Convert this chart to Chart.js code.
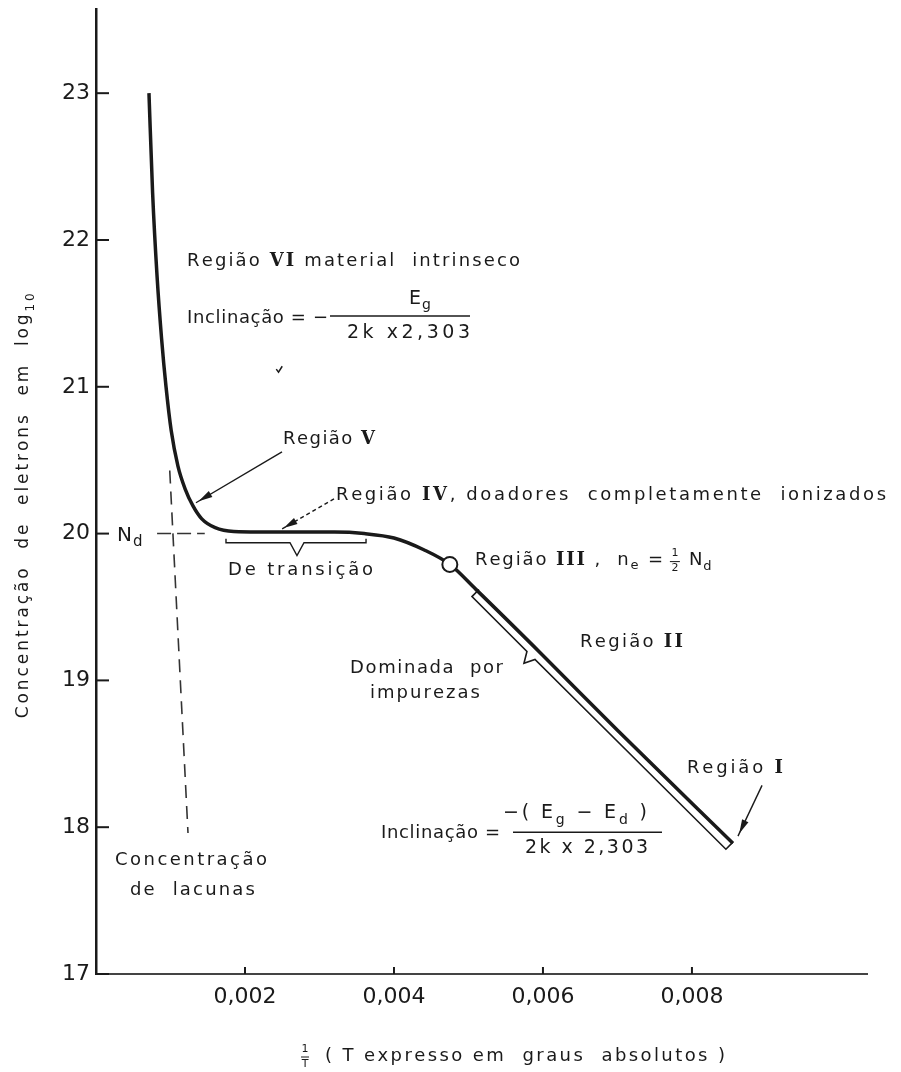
<!DOCTYPE html>
<html>
<head>
<meta charset="utf-8">
<title>Concentração de eletrons</title>
<script src="https://cdn.jsdelivr.net/npm/chart.js@4.4.1/dist/chart.umd.min.js"></script>
<style>
  html, body { margin: 0; padding: 0; background: #fff; }
  canvas { display: block; }
</style>
</head>
<body>
<canvas id="chart" width="901" height="1072"></canvas>
<script>
// 1/T against log10 of the electron concentration
const invT = [0.000711, 0.00076, 0.00082, 0.00088, 0.00094, 0.00101, 0.0011, 0.0012, 0.0013, 0.00142, 0.0016, 0.00185, 0.0026, 0.0032, 0.0036, 0.0040, 0.0044, 0.00475, 0.0051, 0.0060, 0.0070, 0.00855];
const logN = [23.0, 22.32, 21.75, 21.33, 21.0, 20.7, 20.46, 20.3, 20.19, 20.1, 20.04, 20.015, 20.01, 20.01, 20.0, 19.97, 19.89, 19.79, 19.62, 19.17, 18.66, 17.89];

// Região III, n = Nd/2
const halfX = [0.00475];
const halfY = [19.79];

// Nd level (dashed)
const ndX = [0.00082, 0.00146];
const ndY = [20, 20];

// hole concentration (dashed)
const holeX = [0.00099, 0.001235];
const holeY = [20.43, 17.96];

// brace under Região II
const braceX = [0.005141, 0.005047, 0.005785, 0.005745, 0.005893, 0.008456, 0.00855];
const braceY = [19.619, 19.571, 19.197, 19.116, 19.143, 17.85, 17.898];

const xTicks = [0.002, 0.004, 0.006, 0.008];
const yTicks = [17, 18, 19, 20, 21, 22, 23];

const INK = "#1a1a1a";
const pts = (xs, ys) => xs.map((x, i) => ({ x, y: ys[i] }));
const f = (s) => `${s}px "DejaVu Sans"`;
const rn = (s) => `bold ${s}px "DejaVu Serif"`;

// text drawn char by char so the spacing can be stretched to a width
function runs(ctx, items, x, y, w, center) {
  let nat = 0, n = 0;
  items.forEach(([t, fn]) => {
    ctx.font = fn;
    for (const ch of t) { nat += ctx.measureText(ch).width; n++; }
  });
  const ls = w ? Math.max((w - nat) / Math.max(n - 1, 1), 0) : 1;
  const total = nat + ls * (n - 1);
  let cx = center ? x - total / 2 : x;
  items.forEach(([t, fn, dy]) => {
    ctx.font = fn;
    for (const ch of t) {
      ctx.fillText(ch, cx, y + (dy || 0));
      cx += ctx.measureText(ch).width + ls;
    }
  });
  return cx;
}

const notes = {
  id: "notes",
  afterDraw(chart) {
    const { ctx, scales: { x, y }, chartArea: a } = chart;
    const X = (v) => x.getPixelForValue(v / 1000);
    const Y = (v) => y.getPixelForValue(v);
    const line = (x1, y1, x2, y2) => { ctx.beginPath(); ctx.moveTo(x1, y1); ctx.lineTo(x2, y2); ctx.stroke(); };
    const arrow = (x1, y1, x2, y2, dash) => {
      ctx.setLineDash(dash || []);
      line(x1, y1, x2, y2);
      ctx.setLineDash([]);
      const ang = Math.atan2(y2 - y1, x2 - x1), L = 14, W = 3.5;
      const c = Math.cos(ang), s = Math.sin(ang);
      const bx = x2 - 3 * c, by = y2 - 3 * s;
      ctx.beginPath();
      ctx.moveTo(bx, by);
      ctx.lineTo(bx - L * c + W * s, by - L * s - W * c);
      ctx.lineTo(bx - L * c - W * s, by - L * s + W * c);
      ctx.closePath();
      ctx.fill();
    };

    ctx.save();
    ctx.strokeStyle = INK;
    ctx.fillStyle = INK;

    // inward tick marks
    ctx.lineWidth = 2;
    yTicks.forEach((v) => line(a.left, Y(v), a.left + 13, Y(v)));
    xTicks.forEach((v) => line(x.getPixelForValue(v), a.bottom, x.getPixelForValue(v), a.bottom - 7));

    ctx.textBaseline = "middle";
    ctx.textAlign = "left";

    // Nd
    runs(ctx, [["N", f(20)], ["d", f(15), 7]], X(0.282), Y(20) + 2, 0);

    // Região VI
    runs(ctx, [["Região ", f(18)], ["VI", rn(18)], [" material  intrinseco", f(18)]], X(1.222), Y(21.856), 333);
    runs(ctx, [["Inclinação = −", f(18)]], X(1.222), Y(21.468), 141);
    ctx.lineWidth = 1.4;
    line(X(3.141), Y(21.482), X(5.021), Y(21.482));
    runs(ctx, [["E", f(19)], ["g", f(14), 7]], X(4.35), Y(21.6), 0, true);
    runs(ctx, [["2k x2,303", f(19)]], X(4.195), Y(21.366), 123, true);
    // small stray mark below the formula
    ctx.lineWidth = 1.5;
    ctx.beginPath();
    ctx.moveTo(X(2.42), Y(21.12));
    ctx.lineTo(X(2.45), Y(21.1));
    ctx.lineTo(X(2.5), Y(21.14));
    ctx.stroke();

    // Região V
    runs(ctx, [["Região ", f(18)], ["V", rn(18)]], X(2.51), Y(20.645), 92);
    ctx.lineWidth = 1.4;
    arrow(X(2.497), Y(20.557), X(1.342), Y(20.21));

    // Região IV
    runs(ctx, [["Região ", f(18)], ["IV", rn(18)], [", doadores  completamente  ionizados", f(18)]], X(3.222), Y(20.258), 550);
    arrow(X(3.195), Y(20.237), X(2.484), Y(20.027), [4, 3]);

    // De transição brace
    ctx.lineWidth = 1.4;
    ctx.beginPath();
    ctx.moveTo(X(1.745), Y(19.965));
    ctx.lineTo(X(1.745), Y(19.938));
    ctx.lineTo(X(2.604), Y(19.938));
    ctx.lineTo(X(2.698), Y(19.85));
    ctx.lineTo(X(2.792), Y(19.938));
    ctx.lineTo(X(3.625), Y(19.938));
    ctx.lineTo(X(3.625), Y(19.965));
    ctx.stroke();
    runs(ctx, [["De transição", f(18)]], X(1.772), Y(19.748), 145);

    // Região III
    const my = Y(19.816);
    let cx = runs(ctx, [["Região ", f(18)], ["III", rn(18)], [" ,  n", f(18)], ["e", f(13), 5], [" =", f(18)]], X(5.088), my, 188);
    ctx.font = f(11);
    ctx.textAlign = "center";
    ctx.fillText("1", cx + 10, my - 7);
    ctx.fillText("2", cx + 10, my + 8);
    ctx.lineWidth = 1;
    line(cx + 5, my + 1, cx + 15, my + 1);
    ctx.textAlign = "left";
    runs(ctx, [["N", f(18)], ["d", f(13), 6]], cx + 24, my, 0);

    // Região II and its brace label
    runs(ctx, [["Região ", f(18)], ["II", rn(18)]], X(6.497), Y(19.258), 103);
    runs(ctx, [["Dominada  por", f(18)]], X(3.41), Y(19.081), 153);
    runs(ctx, [["impurezas", f(18)]], X(3.678), Y(18.911), 110);

    // Região I
    runs(ctx, [["Região ", f(18)], ["I", rn(18)]], X(7.934), Y(18.401), 96);
    ctx.lineWidth = 1.4;
    arrow(X(8.941), Y(18.285), X(8.618), Y(17.939));

    // bottom slope formula
    runs(ctx, [["Inclinação =", f(18)]], X(3.826), Y(17.959), 119);
    ctx.lineWidth = 1.4;
    line(X(5.598), Y(17.966), X(7.598), Y(17.966));
    runs(ctx, [["−( E", f(19)], ["g", f(14), 7], [" − E", f(19)], ["d", f(14), 7], [" )", f(19)]], X(6.43), Y(18.095), 144, true);
    runs(ctx, [["2k x 2,303", f(19)]], X(6.585), Y(17.857), 123, true);

    // holes label
    runs(ctx, [["Concentração", f(18)]], X(0.255), Y(17.775), 152);
    runs(ctx, [["de  lacunas", f(18)]], X(0.456), Y(17.571), 125);

    // axis titles
    ctx.save();
    ctx.translate(a.left - 72, (a.top + a.bottom) / 2 + 14);
    ctx.rotate(-Math.PI / 2);
    runs(ctx, [["Concentração  de  eletrons  em  log", f(17)], ["10", f(12), 7]], 0, 0, 425, true);
    ctx.restore();

    const ty = a.bottom + 82;
    const fx = X(2.806);
    ctx.font = f(11);
    ctx.textAlign = "center";
    ctx.fillText("1", fx, ty - 7);
    ctx.fillText("T", fx, ty + 8);
    ctx.lineWidth = 1;
    line(fx - 4, ty + 1, fx + 4, ty + 1);
    ctx.textAlign = "left";
    runs(ctx, [["( T expresso em  graus  absolutos )", f(18)]], X(3.074), ty, 400);

    ctx.restore();
  }
};

new Chart(document.getElementById("chart"), {
  type: "scatter",
  data: {
    datasets: [
      {
        label: "Região III",
        data: pts(halfX, halfY),
        pointRadius: 7.5,
        pointBackgroundColor: "#fff",
        pointBorderColor: INK,
        pointBorderWidth: 2,
        showLine: false,
        order: 0,
      },
      {
        label: "n",
        data: pts(invT, logN),
        showLine: true,
        borderColor: INK,
        borderWidth: 3.5,
        pointRadius: 0,
        cubicInterpolationMode: "monotone",
        order: 1,
      },
      {
        label: "brace",
        data: pts(braceX, braceY),
        showLine: true,
        borderColor: INK,
        borderWidth: 1.6,
        pointRadius: 0,
        order: 2,
      },
      {
        label: "Nd",
        data: pts(ndX, ndY),
        showLine: true,
        borderColor: "#333",
        borderWidth: 1.5,
        borderDash: [14, 6],
        pointRadius: 0,
        order: 3,
      },
      {
        label: "lacunas",
        data: pts(holeX, holeY),
        showLine: true,
        borderColor: "#333",
        borderWidth: 1.6,
        borderDash: [13, 8],
        pointRadius: 0,
        order: 3,
      },
    ],
  },
  options: {
    responsive: false,
    animation: false,
    devicePixelRatio: 1,
    layout: { padding: { left: 0, right: 34, top: 8, bottom: 0 } },
    plugins: { legend: { display: false }, tooltip: { enabled: false } },
    scales: {
      x: {
        type: "linear",
        min: 0,
        max: 0.01035,
        afterBuildTicks: (s) => { s.ticks = xTicks.map((value) => ({ value })); },
        afterFit: (s) => { s.height = 98; s.paddingLeft = 0; s.paddingRight = 0; },
        grid: { display: false, drawTicks: false },
        border: { display: true, color: "#444", width: 2 },
        ticks: {
          padding: 10,
          color: INK,
          autoSkip: false,
          maxRotation: 0,
          font: { family: "DejaVu Sans", size: 22 },
          callback: (v) => v.toFixed(3).replace(".", ","),
        },
      },
      y: {
        min: 17,
        max: 23.57,
        afterBuildTicks: (s) => { s.ticks = yTicks.map((value) => ({ value })); },
        afterFit: (s) => { s.width = 96; s.paddingTop = 0; s.paddingBottom = 0; },
        grid: { display: false, drawTicks: false },
        border: { display: true, color: INK, width: 2.5 },
        ticks: {
          padding: 6,
          color: INK,
          font: { family: "DejaVu Sans", size: 22 },
          callback: (v) => String(v),
        },
      },
    },
  },
  plugins: [notes],
});
</script>
</body>
</html>
